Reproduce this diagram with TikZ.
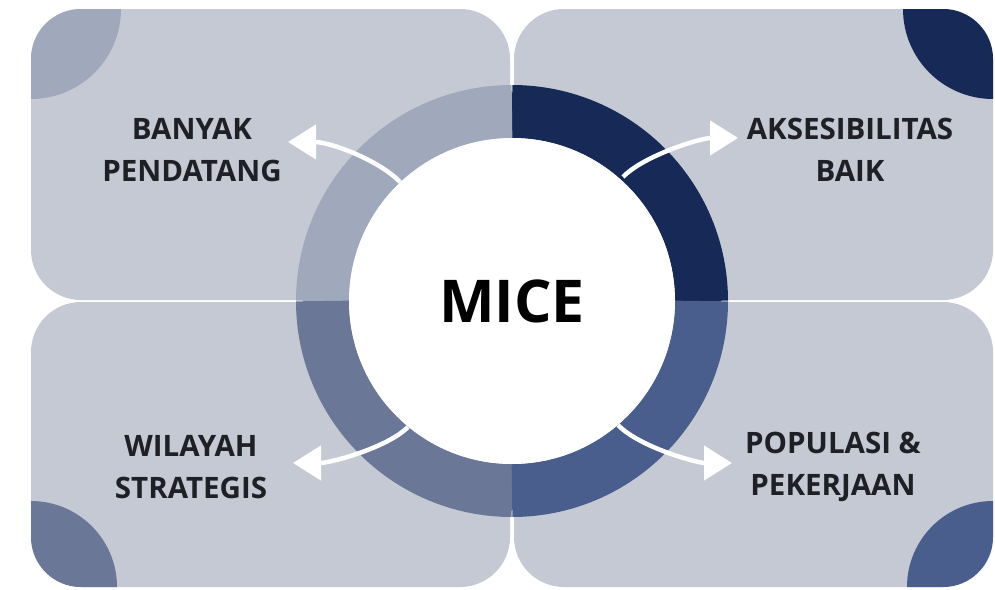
\documentclass[tikz,border=0pt]{standalone}
\usepackage{fontspec}
\setmainfont{Open Sans}
\usetikzlibrary{arrows.meta}
\definecolor{panel}{HTML}{C4C9D3}
\definecolor{segA}{HTML}{A0A8BB}
\definecolor{segB}{HTML}{172956}
\definecolor{segC}{HTML}{495E8C}
\definecolor{segD}{HTML}{6A7797}
\definecolor{labelcol}{HTML}{1E2026}
\tikzset{
  panelbox/.style={fill=panel, rounded corners=50pt},
  ringseg/.style={line width=53pt},
  outarrow/.style={draw=white, line width=4.5pt, -{Triangle[length=28pt,width=34pt]}},
  lbl/.style={font=\fontsize{29.5}{42}\selectfont\bfseries, text=labelcol, align=center, inner sep=0pt},
}
\begin{document}
\begin{tikzpicture}[x=1pt,y=-1pt]
\useasboundingbox (0,0) rectangle (995,589);
\fill[white] (0,0) rectangle (995,589);
% panels
\fill[panelbox] (31,9) rectangle (510,300);
\fill[panelbox] (514,9) rectangle (993,300);
\fill[panelbox] (31,302) rectangle (510,587);
\fill[panelbox] (514,302) rectangle (993,587);
% corner quarter circles
\begin{scope}
  \clip[rounded corners=50pt] (31,9) rectangle (510,300);
  \fill[segA] (31,9) circle (90pt);
\end{scope}
\begin{scope}
  \clip[rounded corners=50pt] (514,9) rectangle (993,300);
  \fill[segB] (993,9) circle (90pt);
\end{scope}
\begin{scope}
  \clip[rounded corners=50pt] (31,302) rectangle (510,587);
  \fill[segD] (31,587) circle (86pt);
\end{scope}
\begin{scope}
  \clip[rounded corners=50pt] (514,302) rectangle (993,587);
  \fill[segC] (993,587) circle (86pt);
\end{scope}
% ring
\coordinate (c) at (512,301);
\draw[ringseg, segB] (c) ++(0:189.5pt) arc[start angle=0, end angle=90, radius=189.5pt];
\draw[ringseg, segA] (c) ++(90:189.5pt) arc[start angle=90, end angle=180, radius=189.5pt];
\draw[ringseg, segD] (c) ++(180:189.5pt) arc[start angle=180, end angle=270, radius=189.5pt];
\draw[ringseg, segC] (c) ++(270:189.5pt) arc[start angle=270, end angle=360, radius=189.5pt];
% centre
\node[circle, fill=white, minimum size=326pt, inner sep=0pt,
      font=\fontsize{59}{60}\selectfont\bfseries] (mice) at (c) {MICE};
% labels
\node[lbl] (tl) at (192,150) {BANYAK\\PENDATANG};
\node[lbl] (tr) at (850,150) {AKSESIBILITAS\\BAIK};
\node[lbl] (bl) at (191,467) {WILAYAH\\STRATEGIS};
\node[lbl] (br) at (833,467) {POPULASI \&\\PEKERJAAN};
% arrows
\coordinate (s1) at (400,182); \coordinate (e1) at (288,142);
\coordinate (s2) at (623,177); \coordinate (e2) at (738,138);
\coordinate (s3) at (408,427); \coordinate (e3) at (293,463);
\coordinate (s4) at (618,425); \coordinate (e4) at (732,463);
\draw[outarrow] (s1) .. controls (379,160) and (330,142) .. (e1);
\draw[outarrow] (s2) .. controls (643,156) and (700,138) .. (e2);
\draw[outarrow] (s3) .. controls (387,448) and (330,463) .. (e3);
\draw[outarrow] (s4) .. controls (639,447) and (697,463) .. (e4);
\end{tikzpicture}
\end{document}
